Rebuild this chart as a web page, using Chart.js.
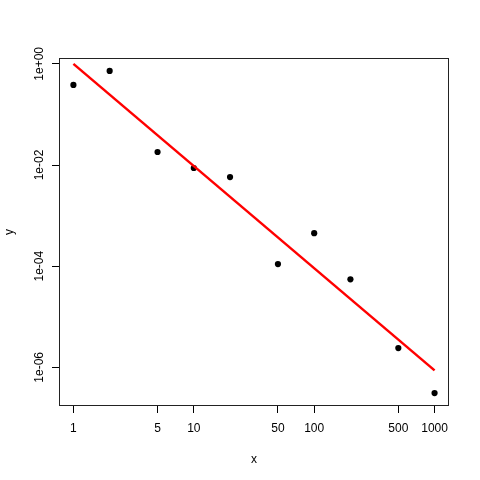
<!DOCTYPE html>
<html><head><meta charset="utf-8">
<script src="https://cdn.jsdelivr.net/npm/chart.js@4/dist/chart.umd.min.js"></script>
<style>html,body{margin:0;padding:0;background:#fff}#c{display:block}</style>
</head><body>
<canvas id="c" width="480" height="480"></canvas>
<script>
const xValues = [1, 2, 5, 10, 20, 50, 100, 200, 500, 1000];
const yValues = [0.384, 0.726, 0.0181, 0.00873, 0.00578, 1.1e-4, 4.5e-4, 5.5e-5, 2.4e-6, 3.1e-7];
const fitX = [1, 1000];
const fitY = [1.0, 8.7e-7];
const xTicks = [1, 5, 10, 50, 100, 500, 1000];
const xTickLabels = ['1', '5', '10', '50', '100', '500', '1000'];
const yTicks = [1, 1e-2, 1e-4, 1e-6];
const yTickLabels = ['1e+00', '1e-02', '1e-04', '1e-06'];
const xRange = [0.759, 1318];
const yRange = [1.72e-7, 1.306];
const xTitle = 'x';
const yTitle = 'y';

const FONT = '12px "Liberation Sans", Arial, sans-serif';

const rStyle = {
  id: 'rStyle',
  afterDraw(chart) {
    const ctx = chart.ctx;
    const a = chart.chartArea;
    const ys = chart.scales.y;
    ctx.save();
    ctx.strokeStyle = '#222';
    ctx.lineWidth = 1;
    ctx.strokeRect(a.left + 0.5, a.top + 0.5, a.right - a.left - 1, a.bottom - a.top - 1);
    ctx.fillStyle = '#000';
    ctx.font = FONT;
    ctx.textAlign = 'center';
    ctx.textBaseline = 'alphabetic';
    yTicks.forEach((v, i) => {
      const py = ys.getPixelForValue(v);
      ctx.save();
      ctx.translate(43, py);
      ctx.rotate(-Math.PI / 2);
      ctx.fillText(yTickLabels[i], 0, 0);
      ctx.restore();
    });
    ctx.save();
    ctx.translate(13, (a.top + a.bottom) / 2);
    ctx.rotate(-Math.PI / 2);
    ctx.fillText(yTitle, 0, 0);
    ctx.restore();
    ctx.fillText(xTitle, (a.left + a.right) / 2, 463);
    ctx.restore();
  }
};

new Chart(document.getElementById('c'), {
  type: 'scatter',
  data: {
    datasets: [
      {
        type: 'line',
        data: fitX.map((x, i) => ({x: x, y: fitY[i]})),
        borderColor: '#ff0000',
        borderWidth: 2.5,
        pointRadius: 0,
        fill: false,
        tension: 0
      },
      {
        data: xValues.map((x, i) => ({x: x, y: yValues[i]})),
        backgroundColor: '#000',
        borderColor: '#000',
        pointRadius: 3.1,
        pointBorderWidth: 0
      }
    ]
  },
  plugins: [rStyle],
  options: {
    responsive: false,
    animation: false,
    devicePixelRatio: 1,
    layout: {padding: {top: 58, right: 31, left: 0, bottom: 0}},
    plugins: {legend: {display: false}, tooltip: {enabled: false}},
    scales: {
      x: {
        type: 'logarithmic',
        min: xRange[0], max: xRange[1],
        afterBuildTicks: s => { s.ticks = xTicks.map(v => ({value: v})); },
        afterFit: s => { s.height = 74; },
        grid: {display: true, drawOnChartArea: false, drawTicks: true, tickLength: 7, color: '#000'},
        border: {display: false},
        ticks: {
          color: '#000', font: {family: '"Liberation Sans", Arial, sans-serif', size: 12},
          padding: 8, maxRotation: 0, minRotation: 0, autoSkip: false,
          callback: (v, i) => xTickLabels[i]
        }
      },
      y: {
        type: 'logarithmic',
        min: yRange[0], max: yRange[1],
        afterBuildTicks: s => { s.ticks = yTicks.map(v => ({value: v})); },
        afterFit: s => { s.width = 59; },
        grid: {display: true, drawOnChartArea: false, drawTicks: true, tickLength: 7, color: '#000'},
        border: {display: false},
        ticks: {display: false, autoSkip: false}
      }
    }
  }
});
</script>
</body></html>
